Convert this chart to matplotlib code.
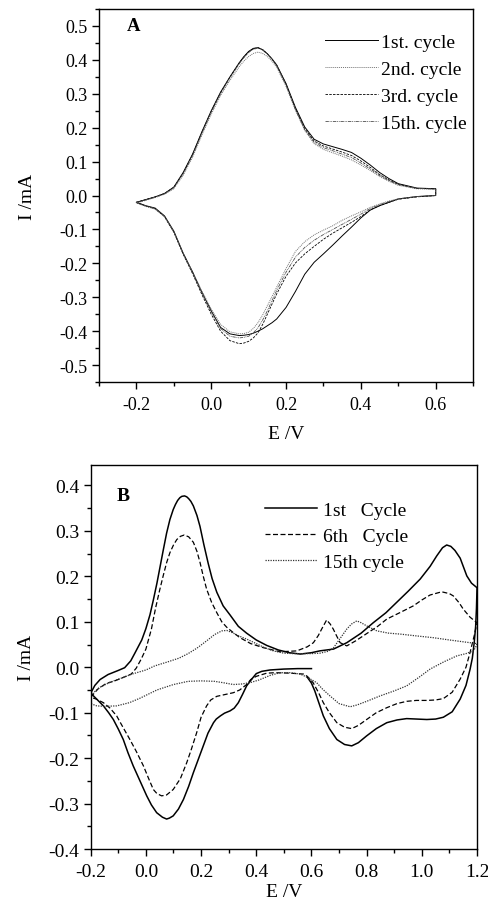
import matplotlib
matplotlib.use("Agg")
import matplotlib.pyplot as plt
from matplotlib.ticker import MultipleLocator
import numpy as np

plt.rcParams['font.family'] = ['Liberation Serif', 'DejaVu Serif']
plt.rcParams['axes.unicode_minus'] = False

# ---- panel A data (E grid shared by all cycles) ----
E_A = [-0.2, -0.175, -0.15, -0.125, -0.1, -0.075, -0.05, -0.025, 0.0, 0.025,
       0.05, 0.075, 0.0875, 0.1, 0.1125, 0.125, 0.1375, 0.15, 0.1625, 0.175,
       0.2, 0.225, 0.25, 0.275, 0.3, 0.325, 0.35, 0.375, 0.4, 0.425,
       0.45, 0.475, 0.5, 0.55, 0.6]

# anodic (upper) branches
a1_up = [-0.020, -0.012, -0.004, 0.006, 0.025, 0.068, 0.122, 0.188, 0.250, 0.305,
         0.350, 0.392, 0.410, 0.425, 0.434, 0.436, 0.430, 0.418, 0.403, 0.385,
         0.330, 0.260, 0.202, 0.166, 0.152, 0.144, 0.136, 0.127, 0.110, 0.090,
         0.068, 0.050, 0.035, 0.022, 0.020]
a2_up = [-0.022, -0.014, -0.006, 0.004, 0.020, 0.060, 0.113, 0.178, 0.240, 0.295,
         0.340, 0.380, 0.397, 0.410, 0.419, 0.423, 0.419, 0.410, 0.396, 0.378,
         0.322, 0.252, 0.192, 0.153, 0.136, 0.126, 0.116, 0.105, 0.090, 0.074,
         0.056, 0.042, 0.030, 0.020, 0.018]
a3_up = [-0.020, -0.012, -0.004, 0.006, 0.024, 0.066, 0.120, 0.186, 0.248, 0.303,
         0.349, 0.391, 0.409, 0.424, 0.433, 0.436, 0.430, 0.418, 0.402, 0.384,
         0.328, 0.256, 0.197, 0.161, 0.146, 0.137, 0.128, 0.118, 0.102, 0.083,
         0.062, 0.046, 0.033, 0.021, 0.020]
a15_up = [-0.021, -0.013, -0.005, 0.005, 0.023, 0.064, 0.118, 0.184, 0.246, 0.301,
          0.347, 0.389, 0.407, 0.422, 0.431, 0.435, 0.429, 0.417, 0.401, 0.383,
          0.326, 0.254, 0.194, 0.157, 0.141, 0.132, 0.122, 0.112, 0.096, 0.078,
          0.059, 0.044, 0.032, 0.021, 0.019]

# cathodic (lower) branches
a1_dn = [-0.020, -0.030, -0.037, -0.060, -0.105, -0.170, -0.225, -0.285, -0.340, -0.389,
         -0.408, -0.413, -0.412, -0.410, -0.406, -0.400, -0.393, -0.384, -0.375, -0.364,
         -0.330, -0.283, -0.232, -0.197, -0.172, -0.146, -0.119, -0.093, -0.066, -0.043,
         -0.030, -0.020, -0.010, -0.003, 0.0]
a2_dn = [-0.022, -0.032, -0.040, -0.062, -0.108, -0.172, -0.226, -0.282, -0.335, -0.380,
         -0.402, -0.408, -0.407, -0.403, -0.392, -0.375, -0.352, -0.325, -0.298, -0.270,
         -0.215, -0.165, -0.136, -0.116, -0.102, -0.089, -0.073, -0.060, -0.048, -0.035,
         -0.025, -0.016, -0.010, -0.003, 0.0]
a3_dn = [-0.020, -0.031, -0.039, -0.062, -0.108, -0.173, -0.230, -0.292, -0.350, -0.400,
         -0.428, -0.437, -0.435, -0.430, -0.420, -0.405, -0.380, -0.350, -0.320, -0.290,
         -0.238, -0.199, -0.172, -0.150, -0.129, -0.111, -0.095, -0.079, -0.062, -0.042,
         -0.030, -0.020, -0.011, -0.004, 0.0]
a15_dn = [-0.021, -0.031, -0.039, -0.061, -0.107, -0.172, -0.228, -0.288, -0.343, -0.392,
          -0.415, -0.420, -0.418, -0.415, -0.405, -0.390, -0.367, -0.340, -0.310, -0.280,
          -0.226, -0.182, -0.153, -0.132, -0.115, -0.100, -0.085, -0.070, -0.055, -0.038,
          -0.027, -0.018, -0.010, -0.003, 0.0]

labels_A = ['1st. cycle', '2nd. cycle', '3rd. cycle', '15th. cycle']

# ---- panel B data (each cycle as the scanned path) ----
# 1st cycle: 0.6 -> -0.2 -> 1.2 -> ~0.58
E_b1 = [0.6, 0.55, 0.5, 0.45, 0.42, 0.4, 0.385, 0.365, 0.35, 0.335, 0.32, 0.305, 0.285,
        0.27, 0.255, 0.245, 0.225, 0.208, 0.19, 0.172, 0.155, 0.136, 0.118, 0.099, 0.085,
        0.075, 0.06, 0.039, 0.02, 0.003, -0.02, -0.046, -0.065, -0.082, -0.1, -0.118,
        -0.135, -0.154, -0.175, -0.19, -0.2,
        -0.185, -0.166, -0.137, -0.1, -0.077, -0.055, -0.04, -0.015, 0.0, 0.015, 0.027,
        0.04, 0.051, 0.063, 0.075, 0.087, 0.099, 0.107, 0.115, 0.123, 0.13, 0.14, 0.148,
        0.155, 0.163, 0.172, 0.185,
        0.196, 0.21, 0.226, 0.24, 0.257, 0.28, 0.305, 0.335, 0.365, 0.4, 0.438, 0.48, 0.52,
        0.56, 0.6, 0.63, 0.68, 0.728, 0.78, 0.824, 0.87, 0.909, 0.95, 0.994, 1.03, 1.054,
        1.075, 1.09, 1.105, 1.12, 1.139, 1.15, 1.163, 1.18, 1.2,
        1.198, 1.195, 1.19, 1.183, 1.175, 1.16, 1.139, 1.11, 1.078, 1.05, 1.018, 0.98,
        0.945, 0.91, 0.873, 0.835, 0.8, 0.77, 0.746, 0.72, 0.692, 0.665, 0.643, 0.625,
        0.612, 0.6, 0.585]
I_b1 = [-0.003, -0.003, -0.004, -0.006, -0.009, -0.014, -0.025, -0.041, -0.060, -0.078,
        -0.090, -0.096, -0.101, -0.107, -0.114, -0.122, -0.145, -0.173, -0.202, -0.232,
        -0.262, -0.291, -0.312, -0.327, -0.332, -0.334, -0.330, -0.320, -0.303, -0.283,
        -0.252, -0.217, -0.188, -0.159, -0.136, -0.115, -0.100, -0.085, -0.072, -0.063, -0.057,
        -0.040, -0.027, -0.016, -0.007, -0.001, 0.014, 0.031, 0.060, 0.085, 0.116, 0.148,
        0.185, 0.220, 0.258, 0.295, 0.325, 0.347, 0.358, 0.367, 0.373, 0.376, 0.377, 0.375,
        0.371, 0.365, 0.355, 0.334,
        0.310, 0.270, 0.228, 0.195, 0.165, 0.135, 0.115, 0.090, 0.075, 0.060, 0.048, 0.038,
        0.032, 0.029, 0.032, 0.036, 0.040, 0.054, 0.075, 0.098, 0.120, 0.143, 0.167, 0.194,
        0.222, 0.245, 0.263, 0.269, 0.266, 0.257, 0.240, 0.222, 0.201, 0.185, 0.175,
        0.130, 0.090, 0.055, 0.020, -0.004, -0.040, -0.070, -0.098, -0.110, -0.114, -0.115,
        -0.114, -0.113, -0.116, -0.122, -0.135, -0.151, -0.166, -0.173, -0.170, -0.159,
        -0.135, -0.107, -0.075, -0.052, -0.035, -0.022]

# 6th cycle: -0.2 -> 1.2 -> -0.2
E_b6 = [-0.2, -0.174, -0.145, -0.113, -0.08, -0.053, -0.035, -0.017, 0.0, 0.02, 0.035,
        0.05, 0.063, 0.075, 0.087, 0.1, 0.112, 0.125, 0.139, 0.155, 0.172, 0.185, 0.196,
        0.208, 0.22, 0.238, 0.257, 0.275, 0.293, 0.315, 0.341, 0.38, 0.426, 0.486, 0.547,
        0.585, 0.607, 0.625, 0.637, 0.655, 0.668, 0.679, 0.692, 0.704, 0.728, 0.76, 0.8,
        0.84, 0.873, 0.92, 0.969, 1.0, 1.03, 1.072, 1.1, 1.114, 1.135, 1.15, 1.175, 1.2,
        1.19, 1.175, 1.16, 1.139, 1.11, 1.078, 1.05, 1.018, 0.98, 0.945, 0.91, 0.873, 0.835,
        0.8, 0.77, 0.746, 0.72, 0.692, 0.665, 0.643, 0.625, 0.606, 0.585, 0.571, 0.522,
        0.47, 0.438, 0.4, 0.38, 0.365, 0.34, 0.317, 0.287, 0.257, 0.235, 0.22, 0.2, 0.184,
        0.165, 0.148, 0.125, 0.099, 0.075, 0.057, 0.04, 0.027, 0.01, -0.009, -0.035,
        -0.058, -0.085, -0.106, -0.13, -0.154, -0.18, -0.2]
I_b6 = [-0.066, -0.048, -0.036, -0.030, -0.022, -0.015, -0.002, 0.018, 0.040, 0.084,
        0.130, 0.170, 0.202, 0.230, 0.252, 0.269, 0.281, 0.288, 0.291, 0.287, 0.275, 0.255,
        0.231, 0.200, 0.172, 0.143, 0.120, 0.100, 0.088, 0.077, 0.065, 0.052, 0.043, 0.034,
        0.036, 0.045, 0.054, 0.070, 0.084, 0.104, 0.095, 0.084, 0.068, 0.054, 0.047, 0.058,
        0.074, 0.090, 0.106, 0.120, 0.135, 0.148, 0.159, 0.166, 0.162, 0.157, 0.142, 0.128,
        0.110, 0.098,
        0.070, 0.033, 0.000, -0.026, -0.055, -0.069, -0.072, -0.073, -0.073, -0.075, -0.080,
        -0.089, -0.100, -0.115, -0.128, -0.135, -0.132, -0.122, -0.100, -0.078, -0.055,
        -0.034, -0.020, -0.015, -0.013, -0.012, -0.013, -0.020, -0.027, -0.038, -0.050,
        -0.056, -0.060, -0.064, -0.072, -0.085, -0.110, -0.144, -0.180, -0.210, -0.245,
        -0.269, -0.281, -0.283, -0.278, -0.269, -0.245, -0.217, -0.185, -0.159, -0.130,
        -0.107, -0.090, -0.078, -0.070, -0.066]

# 15th cycle: -0.2 -> 1.2 -> -0.2
E_b15 = [-0.2, -0.17, -0.13, -0.089, -0.05, 0.0, 0.032, 0.08, 0.12, 0.153, 0.185, 0.22,
         0.249, 0.275, 0.293, 0.31, 0.34, 0.365, 0.4, 0.43, 0.462, 0.5, 0.534, 0.6, 0.631,
         0.66, 0.679, 0.7, 0.728, 0.745, 0.764, 0.78, 0.8, 0.837, 0.88, 0.921, 0.98, 1.042,
         1.1, 1.15, 1.2,
         1.195, 1.187, 1.16, 1.127, 1.08, 1.03, 0.99, 0.945, 0.9, 0.849, 0.8, 0.765, 0.74,
         0.7, 0.667, 0.64, 0.619, 0.585, 0.559, 0.522, 0.486, 0.45, 0.41, 0.377, 0.345,
         0.317, 0.28, 0.249, 0.2, 0.153, 0.1, 0.04, -0.021, -0.06, -0.106, -0.15, -0.178, -0.2]
I_b15 = [-0.062, -0.045, -0.033, -0.024, -0.015, -0.006, 0.003, 0.012, 0.020, 0.030,
         0.042, 0.058, 0.072, 0.080, 0.081, 0.077, 0.068, 0.062, 0.052, 0.043, 0.036,
         0.031, 0.030, 0.030, 0.031, 0.035, 0.042, 0.060, 0.084, 0.095, 0.102, 0.098,
         0.091, 0.080, 0.075, 0.073, 0.069, 0.065, 0.060, 0.056, 0.052,
         0.044, 0.036, 0.030, 0.025, 0.012, -0.004, -0.022, -0.041, -0.052, -0.063, -0.075,
         -0.083, -0.087, -0.080, -0.063, -0.048, -0.034, -0.022, -0.015, -0.012, -0.012,
         -0.018, -0.028, -0.034, -0.037, -0.038, -0.034, -0.031, -0.030, -0.031, -0.038,
         -0.050, -0.068, -0.078, -0.085, -0.086, -0.085, -0.080]

labels_B = ['1st   Cycle', '6th   Cycle', '15th cycle']


def fmt(vals):
    return ['%.1f' % (v + 0.0) for v in vals]


fig = plt.figure(figsize=(4.89, 9.04), dpi=100)
axA = fig.add_axes([0.2025, 0.5763, 0.765, 0.4126])
axB = fig.add_axes([0.1855, 0.0597, 0.790, 0.4248])

# panel A
styles_A = [dict(color='black', ls='-', lw=0.7),
            dict(color='0.45', ls=(0, (1, 1)), lw=0.7),
            dict(color='black', ls=(0, (3, 1.5)), lw=0.6),
            dict(color='0.3', ls=(0, (4, 1, 1, 1, 1, 1)), lw=0.6)]
ups = [a1_up, a2_up, a3_up, a15_up]
dns = [a1_dn, a2_dn, a3_dn, a15_dn]
for up, dn, st, lab in zip(ups, dns, styles_A, labels_A):
    x = list(E_A) + list(E_A[::-1])
    y = list(up) + list(dn[::-1])
    axA.plot(x, y, label=lab, **st)

axA.set_xlim(-0.3, 0.7)
axA.set_ylim(-0.55, 0.55)
axA.xaxis.set_minor_locator(MultipleLocator(0.1))
axA.yaxis.set_minor_locator(MultipleLocator(0.05))
xtA = np.round(np.arange(-0.2, 0.61, 0.2), 1)
axA.set_xticks(xtA)
axA.set_xticklabels(fmt(xtA))
ytA = np.round(np.arange(-0.5, 0.51, 0.1), 1)
axA.set_yticks(ytA)
axA.set_yticklabels(fmt(ytA))
axA.set_xlabel('E /V', fontsize=14, labelpad=9)
axA.set_ylabel('I /mA', fontsize=14, labelpad=17)
axA.text(0.075, 0.955, 'A', transform=axA.transAxes, fontsize=13.5,
         fontweight='bold', va='center', ha='left')
axA.legend(loc='upper left', bbox_to_anchor=(0.604, 0.935), frameon=False,
           fontsize=14, handlelength=2.75, handletextpad=0.12, labelspacing=0.48,
           borderpad=0, borderaxespad=0)

# panel B
styles_B = [dict(color='black', ls='-', lw=1.1),
            dict(color='black', ls=(0, (4, 2)), lw=0.9),
            dict(color='0.2', ls=(0, (1, 1)), lw=0.9)]
for x, y, st, lab in zip([E_b1, E_b6, E_b15], [I_b1, I_b6, I_b15], styles_B, labels_B):
    axB.plot(x, y, label=lab, **st)

axB.set_xlim(-0.2, 1.2)
axB.set_ylim(-0.4, 0.445)
axB.xaxis.set_minor_locator(MultipleLocator(0.1))
axB.yaxis.set_minor_locator(MultipleLocator(0.05))
xtB = np.round(np.arange(-0.2, 1.21, 0.2), 1)
axB.set_xticks(xtB)
axB.set_xticklabels(fmt(xtB))
ytB = np.round(np.arange(-0.4, 0.41, 0.1), 1)
axB.set_yticks(ytB)
axB.set_yticklabels(fmt(ytB))
axB.set_xlabel('E /V', fontsize=14, labelpad=2)
axB.set_ylabel('I /mA', fontsize=14, labelpad=10)
axB.text(0.068, 0.92, 'B', transform=axB.transAxes, fontsize=14,
         fontweight='bold', va='center', ha='left')
axB.legend(loc='upper left', bbox_to_anchor=(0.45, 0.905), frameon=False,
           fontsize=14, handlelength=2.7, handletextpad=0.3, labelspacing=0.42,
           borderpad=0, borderaxespad=0)

for ax, fs, pad in [(axA, 13, 5), (axB, 14, 5)]:
    ax.tick_params(which='both', direction='out', top=False, right=False,
                   labelsize=fs, width=1)
    ax.tick_params(which='major', length=5)
    ax.tick_params(which='minor', length=3)
    ax.tick_params(axis='x', which='major', pad=pad)
    ax.tick_params(axis='y', which='major', pad=3)
    for s in ax.spines.values():
        s.set_linewidth(1)

fig.savefig('out.png', dpi=100)
